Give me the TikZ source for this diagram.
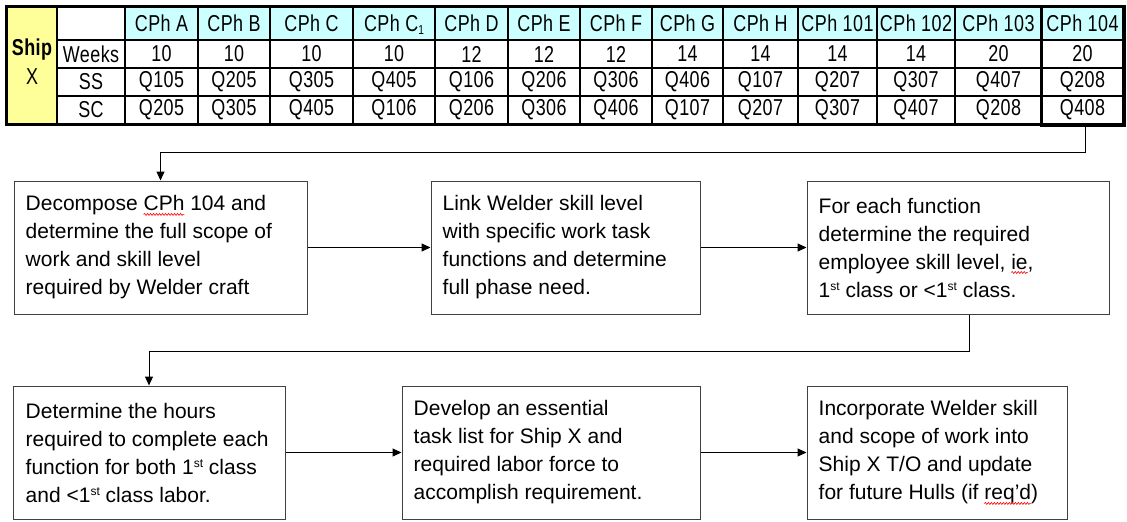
\documentclass[tikz,border=0pt]{standalone}
\usepackage{fontspec}
\setmainfont{Liberation Sans}
\newfontfamily\narrowfont[FakeStretch=0.78,LetterSpace=2]{Liberation Sans}
\usetikzlibrary{arrows.meta,calc,decorations.pathmorphing}

\definecolor{shipyellow}{HTML}{FFFF99}
\definecolor{phasecyan}{HTML}{CCFFFF}
\definecolor{boxgray}{HTML}{404040}

% red wavy underline for flagged words
\newcommand\spellwave[1]{\tikz[baseline=(sw.base)]{%
  \node[inner sep=0pt, outer sep=0pt] (sw) {#1};
  \draw[overlay, red, line width=0.6pt, decorate,
        decoration={snake, amplitude=1pt, segment length=3pt}]
    ([yshift=-3.5pt]sw.base west) -- ([yshift=-3.5pt]sw.base east);}}
% small raised ordinal suffix
\newcommand\ord[1]{\raisebox{6.5pt}{\fontsize{12}{12}\selectfont #1}}
% small lowered index in the phase header
\newcommand\lowidx[1]{\smash{\raisebox{-3pt}{\fontsize{13}{13}\selectfont #1}}}

\tikzset{
  tablefont/.style={font=\narrowfont\fontsize{23}{29}\selectfont},
  cell/.style={draw=black, line width=1.4pt, inner sep=0pt, anchor=center, tablefont},
  stepbox/.style={draw=boxgray, line width=1pt, fill=white, inner sep=0pt,
    minimum height=133pt},
  steptext/.style={anchor=west, align=left, inner sep=0pt,
    font=\fontsize{21}{28}\selectfont},
  conn/.style={draw=black, line width=1pt, -{Triangle[length=9pt,width=8pt]}},
}

\begin{document}
\begin{tikzpicture}[x=1pt,y=-1pt]
\useasboundingbox (0,0) rectangle (1127,522);

% ---- phase table ----
\node[cell, fill=shipyellow, minimum width=50pt, minimum height=117pt] (ship) at (32,65.5) {};
\node[tablefont, align=center, inner sep=0pt] (shiplbl) at (32,62) {\bfseries Ship\\X};
\node[cell, fill=white, minimum width=68pt, minimum height=33pt] (lbl-h) at (91,23.5) {};
\node[cell, fill=white, minimum width=68pt, minimum height=28pt] (lbl-w) at (91,54) {Weeks};
\node[cell, fill=white, minimum width=68pt, minimum height=28pt] (lbl-s) at (91,82) {SS};
\node[cell, fill=white, minimum width=68pt, minimum height=28pt] (lbl-c) at (91,110) {SC};

\foreach \l/\r/\h/\w/\s/\c/\n in {
  125/198/CPh A/10/Q105/Q205/a,
  198/270/CPh B/10/Q205/Q305/b,
  270/353/CPh C/10/Q305/Q405/c,
  353/435/CPh C\lowidx{1}/10/Q405/Q106/c1,
  435/508/CPh D/12/Q106/Q206/d,
  508/580/CPh E/12/Q206/Q306/e,
  580/652/CPh F/12/Q306/Q406/f,
  652/723/CPh G/14/Q406/Q107/g,
  723/798/CPh H/14/Q107/Q207/h,
  798/877/CPh 101/14/Q207/Q307/p101,
  877/955/CPh 102/14/Q307/Q407/p102,
  955/1042/CPh 103/20/Q407/Q208/p103,
  1042/1123/CPh 104/20/Q208/Q408/p104}
{
  \pgfmathsetmacro\cx{(\l+\r)/2}
  \pgfmathsetmacro\cw{\r-\l}
  \node[cell, fill=phasecyan, minimum width=\cw pt, minimum height=33pt] (h-\n) at (\cx,23.5) {\h};
  \node[cell, fill=white, minimum width=\cw pt, minimum height=28pt] (w-\n) at (\cx,54) {\w};
  \node[cell, fill=white, minimum width=\cw pt, minimum height=28pt] (s-\n) at (\cx,82) {\s};
  \node[cell, fill=white, minimum width=\cw pt, minimum height=28pt] (c-\n) at (\cx,110) {\c};
}

% outer frame and highlighted current phase
\draw[line width=2pt] (ship.north west) rectangle (c-p104.south east);
\draw[line width=3.6pt] (h-p104.north west) rectangle (c-p104.south east);

% ---- process steps ----
\node[stepbox, minimum width=293pt] (b1) at (160.5,247.5) {};
\node[stepbox, minimum width=269pt] (b2) at (565.5,247.5) {};
\node[stepbox, minimum width=302pt] (b3) at (958,247.5) {};
\node[stepbox, minimum width=272pt] (b4) at (149,452.5) {};
\node[stepbox, minimum width=298pt] (b5) at (551,452.5) {};
\node[stepbox, minimum width=260pt] (b6) at (937,452.5) {};

\node[steptext] (t1) at ($(b1.west)+(12,0)$)
  {Decompose \spellwave{CPh} 104 and\\determine the full scope of\\work and skill level\\required by Welder craft};
\node[steptext] (t2) at ($(b2.west)+(12,0)$)
  {Link Welder skill level\\with specific work task\\functions and determine\\full phase need.};
\node[steptext] (t3) at ($(b3.west)+(12,0)$)
  {For each function\\determine the required\\employee skill level, \spellwave{ie},\\1\ord{st} class or <1\ord{st} class.};
\node[steptext] (t4) at ($(b4.west)+(13,0)$)
  {Determine the hours\\required to complete each\\function for both 1\ord{st} class\\and <1\ord{st} class labor.};
\node[steptext] (t5) at ($(b5.west)+(12,0)$)
  {Develop an essential\\task list for Ship X and\\required labor force to\\accomplish requirement.};
\node[steptext] (t6) at ($(b6.west)+(12,0)$)
  {Incorporate Welder skill\\and scope of work into\\Ship X T/O and update\\for future Hulls (if \spellwave{req'd})};

% ---- connectors ----
\coordinate (turn1) at (0,152);
\draw[conn] ([xshift=3pt]c-p104.south) -- ([xshift=3pt]c-p104.south |- turn1) -| (b1.north);
\draw[conn] (b1.east) -- (b2.west);
\draw[conn] (b2.east) -- (b3.west);
\draw[conn] ($(b3.south)+(11,0)$) -- ++(0,37) -| (b4.north);
\draw[conn] (b4.east) -- (b5.west);
\draw[conn] (b5.east) -- (b6.west);
\end{tikzpicture}
\end{document}
